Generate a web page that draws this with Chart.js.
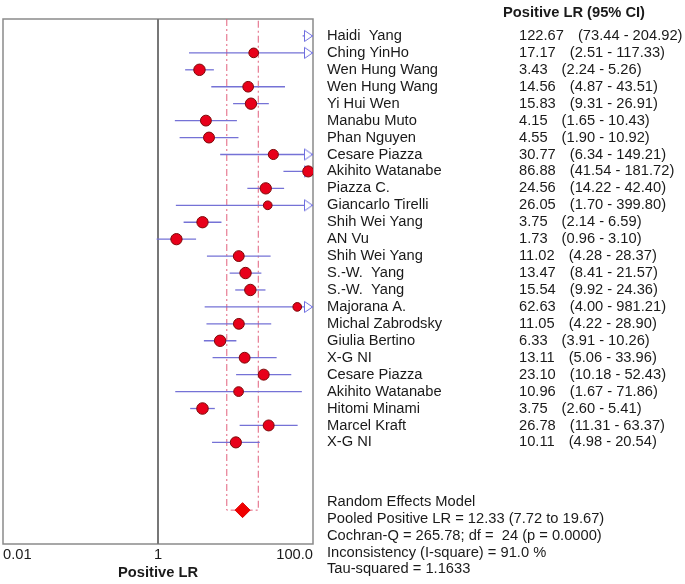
<!DOCTYPE html>
<html lang="en">
<head>
    <meta charset="UTF-8">
    <title>Positive LR forest plot</title>
    <script src="https://cdn.jsdelivr.net/npm/chart.js"></script>
    <style>
        body {
            margin: 0;
            padding: 0;
            background-color: #ffffff;
        }

        .chart-container {
            position: relative;
            width: 685px;
            height: 584px;
        }
    </style>
</head>
<body>
    <div class="chart-container">
        <canvas id="forestChart"></canvas>
    </div>

    <script>
        // Study data
        const studies = ['Haidi  Yang', 'Ching YinHo', 'Wen Hung Wang', 'Wen Hung Wang', 'Yi Hui Wen',
            'Manabu Muto', 'Phan Nguyen', 'Cesare Piazza', 'Akihito Watanabe', 'Piazza C.',
            'Giancarlo Tirelli', 'Shih Wei Yang', 'AN Vu', 'Shih Wei Yang', 'S.-W.  Yang',
            'S.-W.  Yang', 'Majorana A.', 'Michal Zabrodsky', 'Giulia Bertino', 'X-G NI',
            'Cesare Piazza', 'Akihito Watanabe', 'Hitomi Minami', 'Marcel Kraft', 'X-G NI'];
        const lr = [122.67, 17.17, 3.43, 14.56, 15.83, 4.15, 4.55, 30.77, 86.88, 24.56,
            26.05, 3.75, 1.73, 11.02, 13.47, 15.54, 62.63, 11.05, 6.33, 13.11,
            23.10, 10.96, 3.75, 26.78, 10.11];
        const lower = [73.44, 2.51, 2.24, 4.87, 9.31, 1.65, 1.90, 6.34, 41.54, 14.22,
            1.70, 2.14, 0.96, 4.28, 8.41, 9.92, 4.00, 4.22, 3.91, 5.06,
            10.18, 1.67, 2.60, 11.31, 4.98];
        const upper = [204.92, 117.33, 5.26, 43.51, 26.91, 10.43, 10.92, 149.21, 181.72, 42.40,
            399.80, 6.59, 3.10, 28.37, 21.57, 24.36, 981.21, 28.90, 10.26, 33.96,
            52.43, 71.86, 5.41, 63.37, 20.54];

        const pooled = 12.33;
        const pooledLower = 7.72;
        const pooledUpper = 19.67;
        const pooledRow = 29;

        const tickValues = [0.01, 1, 100];
        const tickLabels = ['0.01', '1', '100.0'];
        const columnHeader = 'Positive LR (95% CI)';
        const axisTitle = 'Positive LR';
        const summaryLines = ['Random Effects Model',
            'Pooled Positive LR = 12.33 (7.72 to 19.67)',
            'Cochran-Q = 265.78; df =  24 (p = 0.0000)',
            'Inconsistency (I-square) = 91.0 %',
            'Tau-squared = 1.1633'];

        const axisMax = tickValues[tickValues.length - 1];
        const fontFamily = "'Liberation Sans', Arial, sans-serif";
        const fontSize = 14.7;

        // Open arrow marker: tip sits on the point position
        function makeArrow() {
            const c = document.createElement('canvas');
            c.width = 24;
            c.height = 14;
            const g = c.getContext('2d');
            g.fillStyle = '#ffffff';
            g.strokeStyle = '#6e6ee0';
            g.lineWidth = 1;
            g.beginPath();
            g.moveTo(3.5, 1.5);
            g.lineTo(11.5, 7);
            g.lineTo(3.5, 12.5);
            g.closePath();
            g.fill();
            g.stroke();
            return c;
        }

        const datasets = [];

        // study estimates
        datasets.push({
            type: 'scatter',
            data: lr.map((v, i) => ({ x: v, y: i + 1 })),
            backgroundColor: '#e8001a',
            borderColor: '#7c0808',
            borderWidth: 1,
            pointRadius: ctx => {
                const i = ctx.dataIndex;
                return Math.max(4, 6 - 0.3 * Math.log(upper[i] / lower[i]));
            },
            order: 0
        });

        // pooled diamond
        datasets.push({
            type: 'scatter',
            data: [{ x: pooled, y: pooledRow }],
            pointStyle: 'rectRot',
            pointRadius: 7.5,
            backgroundColor: '#f00000',
            borderColor: '#e00000',
            order: 1
        });

        // arrows for intervals running past the axis
        const arrowRows = upper.map((v, i) => v > axisMax ? i + 1 : null).filter(r => r !== null);
        datasets.push({
            type: 'scatter',
            data: arrowRows.map(r => ({ x: axisMax, y: r })),
            pointStyle: makeArrow(),
            clip: 20,
            order: 2
        });

        // confidence intervals
        lower.forEach((lo, i) => {
            datasets.push({
                type: 'line',
                data: [{ x: lo, y: i + 1 }, { x: upper[i], y: i + 1 }],
                borderColor: '#7572d6',
                borderWidth: 1.3,
                pointRadius: 0,
                order: 5
            });
        });

        // pooled interval bracket
        datasets.push({
            type: 'line',
            data: [{ x: pooledLower, y: 0 }, { x: pooledLower, y: pooledRow },
                   { x: pooledUpper, y: pooledRow }, { x: pooledUpper, y: 0 }],
            borderColor: '#e2607c',
            borderWidth: 1,
            borderDash: [7, 3, 2, 3],
            pointRadius: 0,
            order: 6
        });

        // line of no effect
        datasets.push({
            type: 'line',
            data: [{ x: 1, y: 0 }, { x: 1, y: 31 }],
            borderColor: '#777777',
            borderWidth: 2,
            pointRadius: 0,
            order: 7
        });

        const framePlugin = {
            id: 'frame',
            beforeDatasetsDraw(chart) {
                const { ctx, chartArea } = chart;
                ctx.save();
                ctx.strokeStyle = '#8a8a8a';
                ctx.lineWidth = 1.5;
                ctx.strokeRect(chartArea.left, chartArea.top,
                    chartArea.right - chartArea.left, chartArea.bottom - chartArea.top);
                ctx.restore();
            }
        };

        const tablePlugin = {
            id: 'table',
            afterDraw(chart) {
                const { ctx, chartArea } = chart;
                const yScale = chart.scales.y;
                const nameX = chartArea.right + 14;
                const valueX = chartArea.right + 206;
                ctx.save();
                ctx.fillStyle = '#1a1a1a';
                ctx.textBaseline = 'middle';
                ctx.textAlign = 'left';

                ctx.font = 'bold ' + fontSize + 'px ' + fontFamily;
                ctx.fillText(columnHeader, chartArea.right + 190, 13);

                ctx.font = fontSize + 'px ' + fontFamily;
                studies.forEach((name, i) => {
                    const y = yScale.getPixelForValue(i + 1);
                    ctx.fillText(name, nameX, y);
                    const val = lr[i].toFixed(2);
                    ctx.fillText(val, valueX, y);
                    const w = ctx.measureText(val).width;
                    ctx.fillText('(' + lower[i].toFixed(2) + ' - ' + upper[i].toFixed(2) + ')', valueX + w + 14, y);
                });

                summaryLines.forEach((line, k) => {
                    ctx.fillText(line, nameX, yScale.getPixelForValue(pooledRow - 0.5 + k));
                });
                ctx.restore();
            }
        };

        const ctx = document.getElementById('forestChart').getContext('2d');
        const forestChart = new Chart(ctx, {
            data: { datasets: datasets },
            options: {
                responsive: true,
                maintainAspectRatio: false,
                animation: false,
                layout: {
                    autoPadding: false,
                    padding: { left: 3, right: 372, top: 19, bottom: 0 }
                },
                plugins: {
                    legend: { display: false },
                    tooltip: { enabled: false }
                },
                scales: {
                    x: {
                        type: 'logarithmic',
                        min: tickValues[0],
                        max: axisMax,
                        grid: { display: false, drawTicks: false },
                        border: { display: false },
                        afterBuildTicks: scale => {
                            scale.ticks = tickValues.map(v => ({ value: v }));
                        },
                        afterFit: scale => {
                            scale.height = 40;
                            scale.paddingLeft = 0;
                            scale.paddingRight = 0;
                        },
                        ticks: {
                            align: 'inner',
                            padding: 2,
                            color: '#1a1a1a',
                            font: { family: fontFamily, size: fontSize },
                            callback: (value) => tickLabels[tickValues.indexOf(value)]
                        },
                        title: {
                            display: true,
                            text: axisTitle,
                            color: '#1a1a1a',
                            padding: { top: 0, bottom: 2 },
                            font: { family: fontFamily, size: fontSize, weight: 'bold' }
                        }
                    },
                    y: {
                        type: 'linear',
                        min: 0,
                        max: 31,
                        reverse: true,
                        display: false
                    }
                }
            },
            plugins: [framePlugin, tablePlugin]
        });
    </script>
</body>
</html>
